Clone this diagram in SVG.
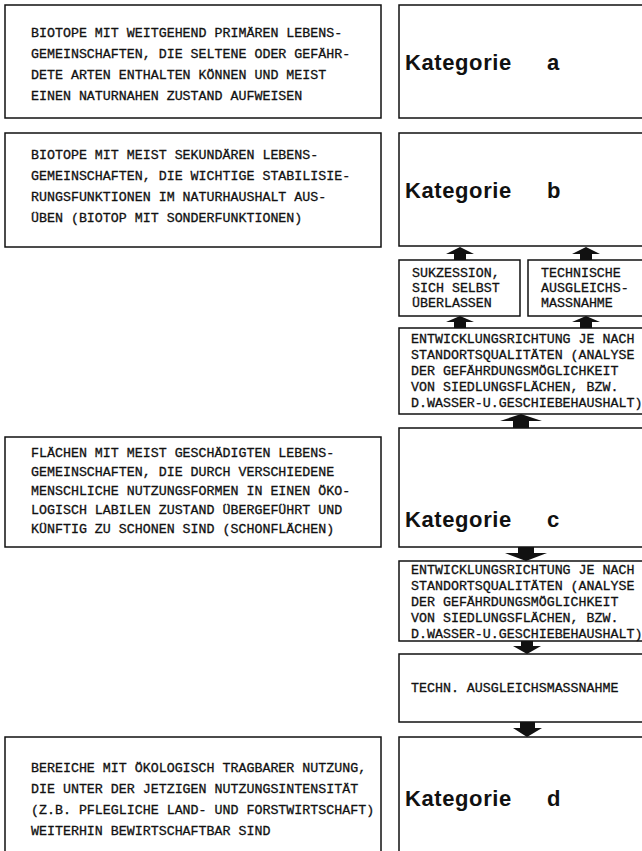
<svg xmlns="http://www.w3.org/2000/svg" width="642" height="851" viewBox="0 0 642 851">
<style>
.box{fill:#fff;stroke:#111;stroke-width:1.5}
.tw{font-family:"Liberation Mono","DejaVu Sans Mono",monospace;font-size:13.3px;fill:#111;stroke:#111;stroke-width:0.3}
.kat{font-family:"Liberation Sans",Arial,sans-serif;font-weight:bold;font-size:22px;fill:#111;letter-spacing:0.6px}
.arr{fill:#111;stroke:none}
</style>
<rect width="642" height="851" fill="#fff"/>
<g id="desc-a">
<rect class="box" x="5" y="5" width="376" height="113"/>
<text class="tw" x="31" y="37">BIOTOPE MIT WEITGEHEND PRIMÄREN LEBENS-</text>
<text class="tw" x="31" y="58">GEMEINSCHAFTEN, DIE SELTENE ODER GEFÄHR-</text>
<text class="tw" x="31" y="79">DETE ARTEN ENTHALTEN KÖNNEN UND MEIST</text>
<text class="tw" x="31" y="100">EINEN NATURNAHEN ZUSTAND AUFWEISEN</text>
</g>
<g id="kat-a">
<rect class="box" x="399" y="5" width="260" height="113"/>
<text class="kat" x="405" y="70">Kategorie <tspan x="547">a</tspan></text>
</g>
<g id="desc-b">
<rect class="box" x="5" y="133" width="376" height="114"/>
<text class="tw" x="31" y="159">BIOTOPE MIT MEIST SEKUNDÄREN LEBENS-</text>
<text class="tw" x="31" y="180">GEMEINSCHAFTEN, DIE WICHTIGE STABILISIE-</text>
<text class="tw" x="31" y="201">RUNGSFUNKTIONEN IM NATURHAUSHALT AUS-</text>
<text class="tw" x="31" y="222">ÜBEN (BIOTOP MIT SONDERFUNKTIONEN)</text>
</g>
<g id="kat-b">
<rect class="box" x="399" y="133" width="260" height="113"/>
<text class="kat" x="405" y="198">Kategorie <tspan x="547">b</tspan></text>
</g>
<g id="sukzession">
<rect class="box" x="399" y="260" width="121" height="56"/>
<text class="tw" x="412" y="277">SUKZESSION,</text>
<text class="tw" x="412" y="292">SICH SELBST</text>
<text class="tw" x="412" y="307">ÜBERLASSEN</text>
</g>
<g id="technische">
<rect class="box" x="528" y="260" width="131" height="56"/>
<text class="tw" x="541" y="277">TECHNISCHE</text>
<text class="tw" x="541" y="292">AUSGLEICHS-</text>
<text class="tw" x="541" y="307">MASSNAHME</text>
</g>
<g id="entwicklung-1">
<rect class="box" x="399" y="328" width="260" height="86"/>
<text class="tw" x="411" y="343">ENTWICKLUNGSRICHTUNG JE NACH</text>
<text class="tw" x="411" y="359">STANDORTSQUALITÄTEN (ANALYSE</text>
<text class="tw" x="411" y="375">DER GEFÄHRDUNGSMÖGLICHKEIT</text>
<text class="tw" x="411" y="391">VON SIEDLUNGSFLÄCHEN, BZW.</text>
<text class="tw" x="411" y="407">D.WASSER-U.GESCHIEBEHAUSHALT)</text>
</g>
<g id="desc-c">
<rect class="box" x="5" y="437" width="376" height="110"/>
<text class="tw" x="31" y="457">FLÄCHEN MIT MEIST GESCHÄDIGTEN LEBENS-</text>
<text class="tw" x="31" y="476">GEMEINSCHAFTEN, DIE DURCH VERSCHIEDENE</text>
<text class="tw" x="31" y="495">MENSCHLICHE NUTZUNGSFORMEN IN EINEN ÖKO-</text>
<text class="tw" x="31" y="514">LOGISCH LABILEN ZUSTAND ÜBERGEFÜHRT UND</text>
<text class="tw" x="31" y="533">KÜNFTIG ZU SCHONEN SIND (SCHONFLÄCHEN)</text>
</g>
<g id="kat-c">
<rect class="box" x="399" y="428" width="260" height="119"/>
<text class="kat" x="405" y="527">Kategorie <tspan x="547">c</tspan></text>
</g>
<g id="entwicklung-2">
<rect class="box" x="399" y="561" width="260" height="80"/>
<text class="tw" x="411" y="574">ENTWICKLUNGSRICHTUNG JE NACH</text>
<text class="tw" x="411" y="590">STANDORTSQUALITÄTEN (ANALYSE</text>
<text class="tw" x="411" y="606">DER GEFÄHRDUNGSMÖGLICHKEIT</text>
<text class="tw" x="411" y="622">VON SIEDLUNGSFLÄCHEN, BZW.</text>
<text class="tw" x="411" y="638">D.WASSER-U.GESCHIEBEHAUSHALT)</text>
</g>
<g id="techn">
<rect class="box" x="399" y="654" width="260" height="68"/>
<text class="tw" x="411" y="692">TECHN. AUSGLEICHSMASSNAHME</text>
</g>
<g id="desc-d">
<rect class="box" x="5" y="737" width="376" height="130"/>
<text class="tw" x="31" y="772">BEREICHE MIT ÖKOLOGISCH TRAGBARER NUTZUNG,</text>
<text class="tw" x="31" y="793">DIE UNTER DER JETZIGEN NUTZUNGSINTENSITÄT</text>
<text class="tw" x="31" y="814">(Z.B. PFLEGLICHE LAND- UND FORSTWIRTSCHAFT)</text>
<text class="tw" x="31" y="835">WEITERHIN BEWIRTSCHAFTBAR SIND</text>
</g>
<g id="kat-d">
<rect class="box" x="399" y="737" width="260" height="130"/>
<text class="kat" x="405" y="806">Kategorie <tspan x="547">d</tspan></text>
</g>
<g id="connectors">
<polygon class="arr" points="460,247 474,254 466,254 466,260 454,260 454,254 446,254"/>
<polygon class="arr" points="586,247 600,254 592,254 592,260 580,260 580,254 572,254"/>
<polygon class="arr" points="460,316 474,322 466,322 466,328 454,328 454,322 446,322"/>
<polygon class="arr" points="586,316 600,322 592,322 592,328 580,328 580,322 572,322"/>
<polygon class="arr" points="521,414 542,421 529,421 529,428 513,428 513,421 500,421"/>
<polygon class="arr" points="518,547 534,547 534,553 547,553 526,561 505,553 518,553"/>
<polygon class="arr" points="521,641 533,641 533,646 541,646 527,654 513,646 521,646"/>
<polygon class="arr" points="520,722 535,722 535,728 542,728 527,737 513,728 520,728"/>
</g>
</svg>
